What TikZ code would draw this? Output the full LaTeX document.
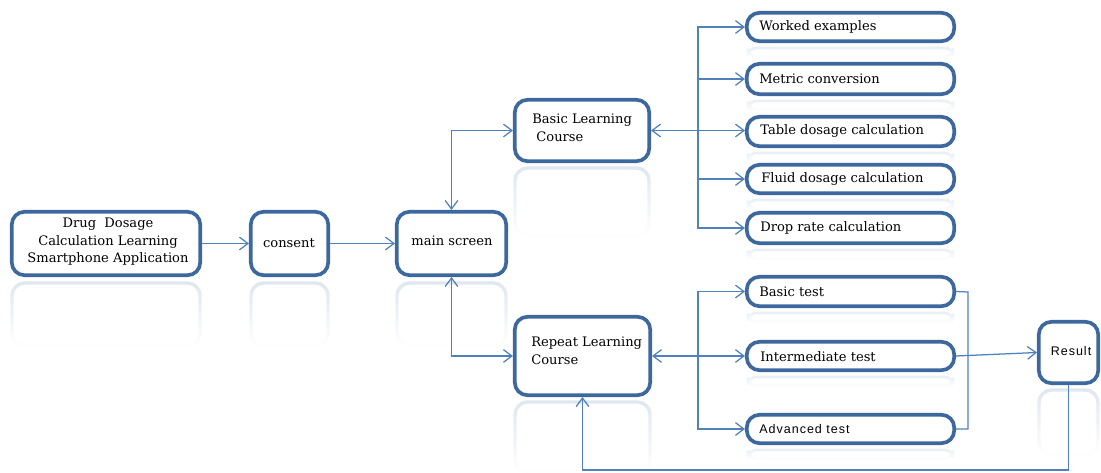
\documentclass[tikz,border=0pt]{standalone}
\usepackage{fontspec}
\setmainfont{DejaVu Serif}
\newfontfamily\sansls[LetterSpace=8]{Liberation Sans}
\usetikzlibrary{arrows.meta,fadings}
\definecolor{boxblue}{RGB}{60,104,158}
\definecolor{linkblue}{RGB}{79,129,189}
\definecolor{reflc}{RGB}{200,214,230}
\tikzfading[name=fadedown, top color=transparent!40, bottom color=transparent!100]
\tikzfading[name=fadesmall, top color=transparent!60, bottom color=transparent!100]
\tikzset{
  box/.style={draw=boxblue, line width=2.6pt, rounded corners=9pt, fill=white, inner sep=0pt},
  lbl/.style={font=\fontsize{9.3}{12.5}\selectfont, text=black, inner sep=0pt},
  slbl/.style={font=\sansls\fontsize{8.9}{10}\selectfont, text=black, inner sep=0pt},
  link/.style={draw=linkblue, line width=0.9pt},
  tip/.style={-{Straight Barb[length=6pt,width=9pt,line width=0.9pt]}},
  tips/.style={{Straight Barb[length=6pt,width=9pt,line width=0.9pt]}-{Straight Barb[length=6pt,width=9pt,line width=0.9pt]}},
  refl/.style={draw=reflc, line width=2.4pt, rounded corners=9pt, path fading=fadedown},
  srefl/.style={draw=reflc, line width=2pt, rounded corners=6pt, path fading=fadesmall}
}
\newcommand\mkbox[5]{\node[box, minimum width={(#4-#2-3.6)*0.025cm}, minimum height={(#5-#3-3.6)*0.025cm}] (#1) at ({(#2+#4)/2},{(#3+#5)/2}) {};}
\newcommand\mkrefl[4]{\draw[refl] ({#1+2},{#2}) rectangle ({#3-2},{#4});}
\begin{document}
\begin{tikzpicture}[x=0.025cm,y=-0.025cm]
\useasboundingbox (0,0) rectangle (1101,473);
% reflections
\mkrefl{10}{283}{202}{346}
\mkrefl{249}{283}{330}{346}
\mkrefl{395}{283}{508}{346}
\mkrefl{513}{168}{651}{236}
\mkrefl{513}{402}{652}{472}
\mkrefl{1037}{390}{1100}{455}
\foreach \yb in {43,96,148,195,245,308,372,445} {
  \draw[srefl] (748,\yb+5) rectangle (953,\yb+14);
}
% boxes
\mkbox{drug}{10}{210}{202}{277}
\mkbox{consent}{249}{210}{330}{277}
\mkbox{main}{395}{210}{508}{277}
\mkbox{basic}{513}{98}{651}{163}
\mkbox{repeat}{513}{315}{652}{397}
\mkbox{worked}{745}{11}{956}{43}
\mkbox{metric}{745}{62}{956}{96}
\mkbox{table}{745}{115}{956}{148}
\mkbox{fluid}{745}{163}{956}{195}
\mkbox{drop}{745}{211}{956}{245}
\mkbox{btest}{745}{275}{956}{308}
\mkbox{itest}{745}{340}{956}{372}
\mkbox{atest}{745}{413}{956}{445}
\mkbox{result}{1037}{320}{1100}{385}
% labels
\node[lbl, align=center] (tdrug) at (108,242) {Drug\ \ Dosage\\Calculation Learning\\Smartphone Application};
\node[lbl] (tconsent) at (289,243) {consent};
\node[lbl] (tmain) at (452,241) {main screen};
\node[lbl, anchor=north west, align=left] (tbasic) at (532,114) {Basic Learning\\\ Course};
\node[lbl, anchor=north west, align=left] (trepeat) at (531,337) {Repeat Learning\\Course};
\node[lbl, anchor=west] (tworked) at (759,27) {Worked examples};
\node[lbl, anchor=west] (tmetric) at (759,79) {Metric conversion};
\node[lbl, anchor=west] (ttable) at (760,131) {Table dosage calculation};
\node[lbl, anchor=west] (tfluid) at (761,179) {Fluid dosage calculation};
\node[lbl, anchor=west] (tdrop) at (760,228) {Drop rate calculation};
\node[lbl, anchor=west] (tbtest) at (759,292) {Basic test};
\node[lbl, anchor=west] (titest) at (760,357) {Intermediate test};
\node[slbl, anchor=west] (tatest) at (759,429) {Advanced test};
\node[slbl] (tresult) at (1071,351) {Result};
% connectors
\draw[link,tip] (drug.east) -- (consent.west);
\draw[link,tip] (consent.east) -- (main.west);
\draw[link,tips] (main.north) |- (basic.west);
\draw[link,tips] (main.south) |- (repeat.west);
\coordinate (lt) at (698,130.5);
\coordinate (tt) at (698,356);
\draw[link,tips] (basic.east) -- (basic.east -| table.west);
\draw[link,tip] (lt) |- (worked.west);
\draw[link,tip] (lt) |- (metric.west);
\draw[link,tip] (lt) |- (fluid.west);
\draw[link,tip] (lt) |- (drop.west);
\draw[link,tips] (repeat.east) -- (itest.west);
\draw[link,tip] (tt) |- (btest.west);
\draw[link,tip] (tt) |- (atest.west);
\coordinate (cr) at (968,292);
\draw[link] (btest.east) -- (cr) |- (atest.east);
\draw[link,tip] (itest.east) -- (result.west);
\coordinate (fb) at (582.5,470);
\draw[link,tip] (result.south) |- (fb) -- (repeat.south);
\end{tikzpicture}
\end{document}
